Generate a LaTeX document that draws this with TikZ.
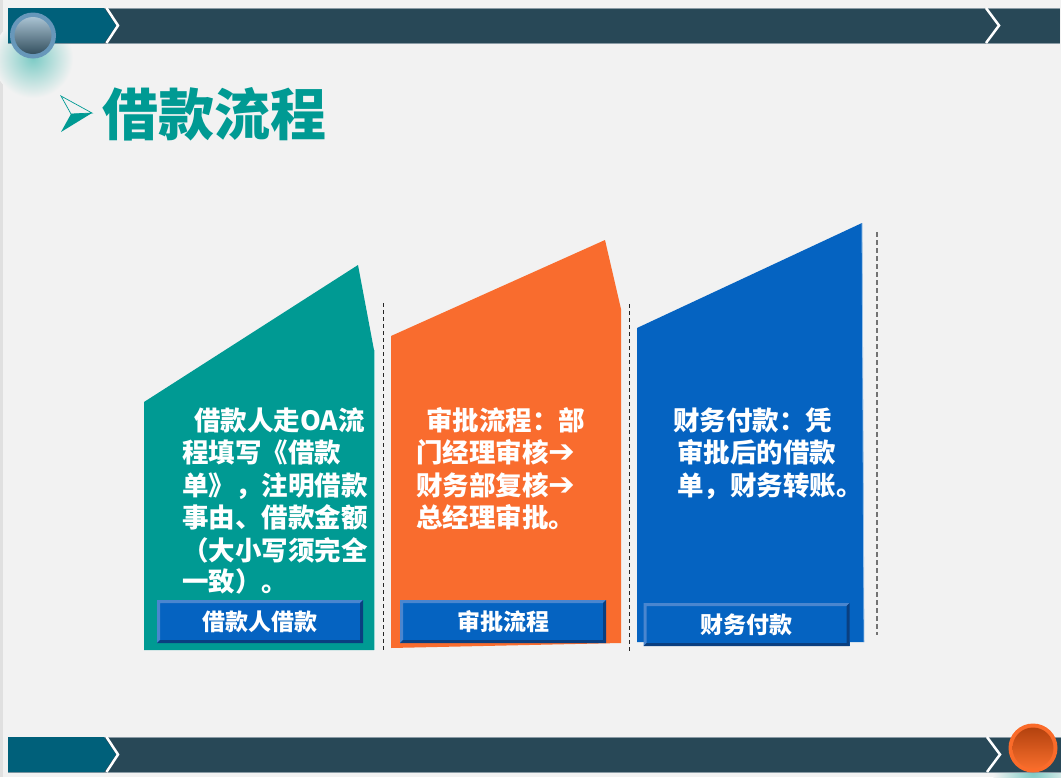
\documentclass[tikz,border=0pt]{standalone}
\usepackage{fontspec}
\setmainfont{Noto Sans CJK SC}
\newfontfamily\symfont{DejaVu Sans}
\definecolor{bgc}{HTML}{F2F2F2}
\definecolor{tealc}{HTML}{009A93}
\definecolor{orangec}{HTML}{F96C2E}
\definecolor{bluec}{HTML}{0563C1}
\definecolor{barl}{HTML}{00607A}
\definecolor{bard}{HTML}{284857}
\definecolor{baredge}{HTML}{8A9BA5}
\definecolor{btnlight}{HTML}{4A86CF}
\definecolor{btndark}{HTML}{0A3F80}
\definecolor{glowc}{HTML}{7CCBC5}
\definecolor{ringblue}{HTML}{6797BA}
\definecolor{ballhi}{HTML}{A9C2D2}
\definecolor{balllo}{HTML}{34505F}
\definecolor{ringor}{HTML}{FA6B2A}
\definecolor{orhi}{HTML}{B3420F}
\definecolor{orlo}{HTML}{F76D2B}
\tikzset{
  txtline/.style={anchor=base west, inner sep=0, text=white,
    font=\bfseries\fontsize{26.5}{33}\selectfont},
  btn/.style={minimum width=206pt, minimum height=43pt, inner sep=0,
    fill=bluec, text=white, font=\bfseries\fontsize{23}{26}\selectfont,
    path picture={
      \fill[btnlight] (path picture bounding box.north west) -- (path picture bounding box.north east)
        -- ([xshift=-3pt,yshift=-3pt]path picture bounding box.north east)
        -- ([xshift=3pt,yshift=-3pt]path picture bounding box.north west)
        -- ([xshift=3pt,yshift=3pt]path picture bounding box.south west)
        -- (path picture bounding box.south west) -- cycle;
      \fill[btndark] (path picture bounding box.south east) -- (path picture bounding box.south west)
        -- ([xshift=3pt,yshift=3pt]path picture bounding box.south west)
        -- ([xshift=-3pt,yshift=3pt]path picture bounding box.south east)
        -- ([xshift=-3pt,yshift=-3pt]path picture bounding box.north east)
        -- (path picture bounding box.north east) -- cycle;
    }},
  dashline/.style={black!85, line width=1pt, dash pattern=on 4pt off 3pt},
  chevron/.style={white, line width=2.5pt},
}
\newcommand\heavyarr{{\symfont\bfseries\fontsize{32}{34}\selectfont ➔}}
\begin{document}
\begin{tikzpicture}[x=1pt,y=-1pt]
\fill[bgc] (0,0) rectangle (1061,777);
\useasboundingbox (0,0) rectangle (1061,777);
\fill[black!12] (0,0) rectangle (3,777);
% glows
\shade[inner color=glowc, outer color=bgc] (33,58) circle (40);
\shade[inner color=glowc, outer color=bgc] (1033,772) circle (40);
% top bar
\fill[bard] (8,8) rectangle (1060,43);
\draw[baredge, line width=0.8pt] (8,8) -- (1060,8);
\draw[baredge, line width=0.8pt] (8,43) -- (1060,43);
\fill[barl] (8,8) -- (104,8) -- (116,25.5) -- (104,43) -- (8,43) -- cycle;
\draw[chevron] (106.5,8) -- (118,25.5) -- (106.5,43);
\draw[chevron] (986,8) -- (999,25.5) -- (986,43);
% bottom bar
\fill[bard] (8,737) rectangle (1061,772);
\draw[baredge, line width=0.8pt] (8,737) -- (1061,737);
\draw[baredge, line width=0.8pt] (8,772) -- (1061,772);
\fill[barl] (8,737) -- (104,737) -- (116,754.5) -- (104,772) -- (8,772) -- cycle;
\draw[chevron] (106.5,737) -- (118,754.5) -- (106.5,772);
\draw[chevron] (987,737) -- (1000,754.5) -- (987,772);
% balls
\fill[ringblue] (33,35.5) circle (23);
\shade[top color=ballhi, bottom color=balllo] (33,35.5) circle (18.5);
\fill[ringor] (1033,748) circle (24.5);
\shade[top color=orhi, bottom color=orlo] (1033,748) circle (20.5);
% title
\fill[tealc] (71,114) -- (92,113) -- (61,132) -- cycle;
\draw[tealc, line width=0.7pt, line join=miter] (61,96) -- (92,113) -- (71,114) -- cycle;
\node[anchor=base west, inner sep=0, text=tealc, font=\bfseries\fontsize{56}{60}\selectfont] (title) at (102,135) {借款流程};
% panels
\fill[tealc] (144,402) -- (358,265) -- (374,350) -- (374,650) -- (144,650) -- cycle;
\fill[orangec] (391,336) -- (605,240) -- (621,309) -- (621,643) -- (391,648) -- cycle;
\fill[bluec] (637,328) -- (862,223) -- (864,642) -- (637,642) -- cycle;
\draw[white!60!tealc, line width=0.8pt] (374,350) -- (374,650);
\draw[white!60!bluec, line width=0.8pt] (862,223) -- (864,642);
% separators
\draw[dashline] (383.5,303) -- (383.5,651);
\draw[dashline] (629,304) -- (629,652);
\draw[black!55, line width=1.2pt, dash pattern=on 5pt off 3pt] (877,232) -- (877,635);
% texts
\node[txtline] (t1a) at (194,430) {借款人走OA流};
\node[txtline] (t1b) at (182,462.5) {程填写《借款};
\node[txtline] (t1c) at (182,495) {单》，注明借款};
\node[txtline] (t1d) at (182,527.5) {事由、借款金额};
\node[txtline] (t1e) at (182,560) {（大小写须完全};
\node[txtline] (t1f) at (182,591) {一致）。};
\node[txtline] (t2a) at (426,430) {审批流程：部};
\node[txtline] (t2b) at (416,462.5) {门经理审核\heavyarr};
\node[txtline] (t2c) at (416,495) {财务部复核\heavyarr};
\node[txtline] (t2d) at (416,527.5) {总经理审批。};
\node[txtline] (t3a) at (673,430) {财务付款：凭};
\node[txtline] (t3b) at (677,462.5) {审批后的借款};
\node[txtline] (t3c) at (677,495) {单，财务转账。};
% buttons
\node[btn] (b1) at (260,621.5) {借款人借款};
\node[btn] (b2) at (503,621.5) {审批流程};
\node[btn] (b3) at (746.5,624.5) {财务付款};
\end{tikzpicture}
\end{document}
